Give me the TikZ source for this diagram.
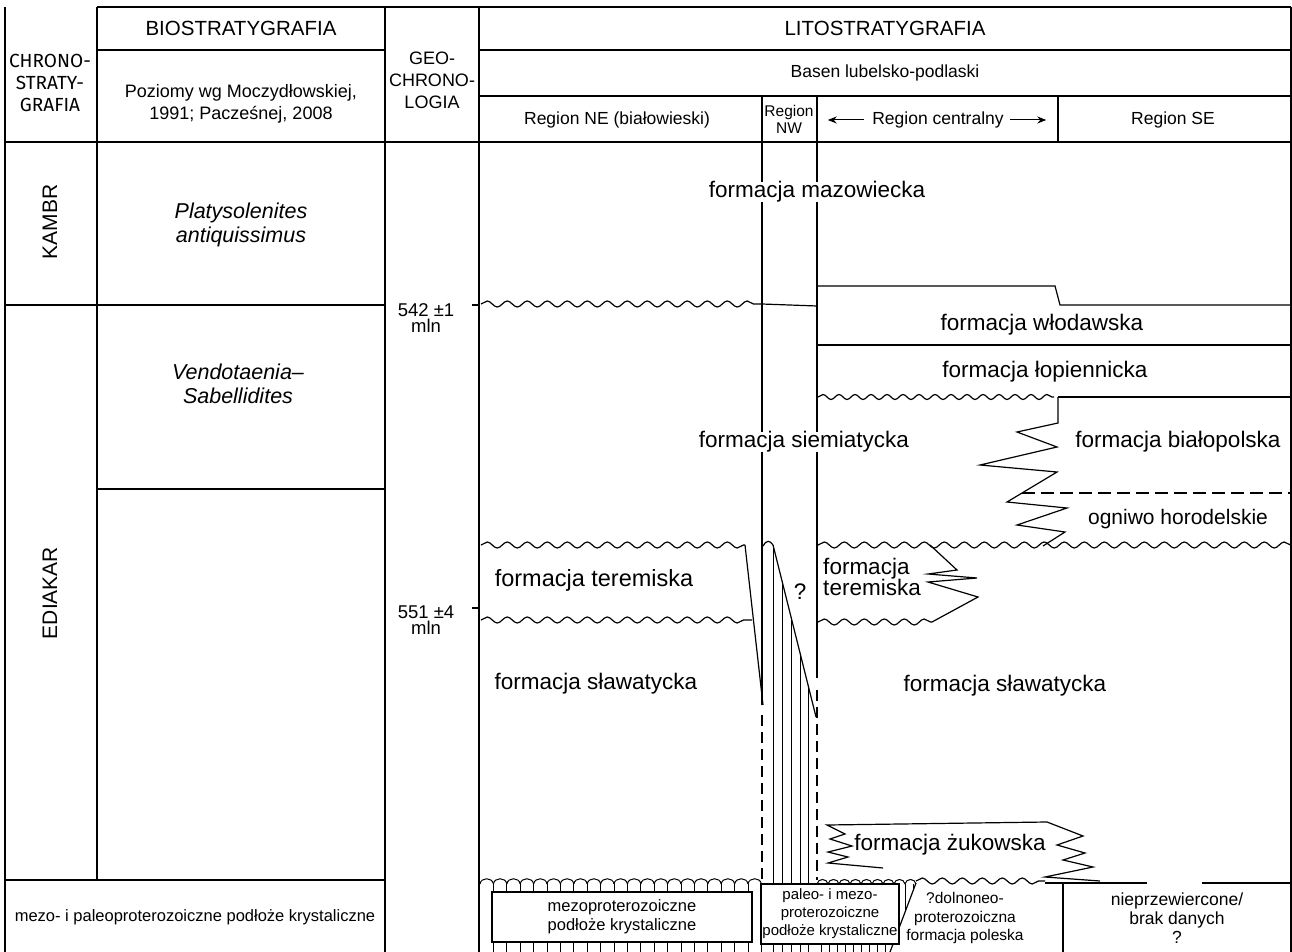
\documentclass[tikz,border=0pt]{standalone}
\usepackage{fontspec}
\setmainfont{Liberation Sans}
\newfontfamily\chronofont{Fira Sans}
\usetikzlibrary{decorations.pathmorphing,arrows.meta}
\begin{document}
\begin{tikzpicture}[x=1pt,y=-1pt,line width=1.2pt,draw=black,
  wave/.style={decorate,decoration={snake,segment length=20pt,amplitude=3pt}},
  swave/.style={decorate,decoration={snake,segment length=16pt,amplitude=2.5pt}},
  dsh/.style={dash pattern=on 11pt off 6pt},
  big/.style={inner sep=0pt,font=\fontsize{22.5}{22}\selectfont,align=left},
  hdr/.style={inner sep=0pt,font=\fontsize{18}{22}\selectfont,align=center},
  sml/.style={inner sep=0pt,font=\fontsize{17.5}{20}\selectfont,align=center},
  chr/.style={inner sep=0pt,font=\chronofont\fontsize{19}{22}\selectfont,align=center},
  arr/.style={-{Stealth[length=9pt,width=7pt]},line width=1pt},
  boxn/.style={draw,fill=white,inner sep=0pt,align=center}]
\path[use as bounding box] (0,0) rectangle (1292,952);
\fill[white] (0,0) rectangle (1292,952);
% ---------- frame and header ----------
\draw (97,7) -- (1291,7);
\draw (5,7) -- (5,952);
\draw (97,7) -- (97,880);
\draw (385,7) -- (385,952);
\draw (479,7) -- (479,952);
\draw (1291,7) -- (1291,952);
\draw (97,50) -- (385,50);
\draw (479,50) -- (1291,50);
\draw (479,96) -- (1291,96);
\draw (5,142) -- (1291,142);
\draw (1058,96) -- (1058,142);
% chrono / bio cells
\draw (5,305) -- (385,305);
\draw (97,489) -- (385,489);
\draw (5,880) -- (385,880);
% geo ticks
\draw (472,305) -- (479,305);
\draw (472,608) -- (479,608);
% NW column lines
\draw (762,96) -- (762,705);
\draw[dsh] (762,715) -- (762,880);
\draw (817,96) -- (817,678);
\draw[dsh] (817,690) -- (817,880);
% ---------- header texts ----------
\node[chr] (c1) at (50,83) {CHRONO-\\STRATY-\\GRAFIA};
\node[hdr,font=\fontsize{20.5}{22}\selectfont] (b1) at (241,28) {BIOSTRATYGRAFIA};
\node[hdr] (b2) at (241,104) {Poziomy wg Moczydłowskiej,\\1991; Pacześnej, 2008};
\node[hdr] (g1) at (432,80) {GEO-\\CHRONO-\\LOGIA};
\node[hdr,font=\fontsize{20.5}{22}\selectfont] (l1) at (885,28) {LITOSTRATYGRAFIA};
\node[sml] (l2) at (885,73) {Basen lubelsko-podlaski};
\node[sml] (r1) at (617,120) {Region NE (białowieski)};
\node[inner sep=0pt,font=\fontsize{15.5}{17}\selectfont,align=center] (r2) at (789,119) {Region\\NW};
\node[sml] (r3) at (938,120) {Region centralny};
\node[sml] (r4) at (1173,120) {Region SE};
\draw[arr] ([xshift=-8pt]r3.west) -- ([xshift=-44pt]r3.west);
\draw[arr] ([xshift=6pt]r3.east) -- ([xshift=42pt]r3.east);
% ---------- chrono / bio / geo texts ----------
\node[hdr,font=\fontsize{21}{22}\selectfont,rotate=90] (k1) at (50,222) {KAMBR};
\node[hdr,font=\fontsize{21}{22}\selectfont,rotate=90] (k2) at (50,593) {EDIAKAR};
\node[inner sep=0pt,font=\itshape\fontsize{21.5}{24}\selectfont,align=center] (p1) at (241,225) {Platysolenites\\antiquissimus};
\node[inner sep=0pt,font=\itshape\fontsize{21.5}{24}\selectfont,align=center] (p2) at (238,384) {Vendotaenia–\\Sabellidites};
\node[hdr,font=\fontsize{18.5}{16}\selectfont] (t1) at (426,318) {542 ±1\\mln};
\node[hdr,font=\fontsize{18.5}{16}\selectfont] (t2) at (426,620) {551 ±4\\mln};
\node[sml,font=\fontsize{16.5}{20}\selectfont] (bt) at (195,917) {mezo- i paleoproterozoiczne podłoże krystaliczne};
% ---------- boundaries ----------
% Kambr / Ediakar
\draw[wave] (481,304) -- (761,304);
\draw (762,304) -- (817,306);
\draw (817,286) -- (1055,286) -- (1060,305) -- (1291,305);
\draw (817,345) -- (1291,345);
\draw[swave] (818,397) -- (1054,397);
\draw (1058,397) -- (1291,397);
% bialopolska interfingering
\draw (1058,397) -- (1058,423) -- (1017,432) -- (1057,447) -- (980,465) -- (1057,472)
      -- (1007,502) -- (1067,508) -- (1017,525) -- (1065,532) -- (1043,546);
\draw[dash pattern=on 13pt off 6pt] (1022,493) -- (1291,493);
% base of siemiatycka
\draw[wave] (481,545) -- (745,545);
\draw (763,546) .. controls (766,540) and (770,540) .. (773,545);
\draw[wave] (818,545) -- (1291,545);
% teremiska NE
\draw[wave] (481,620) -- (752,620);
\draw (745,545) -- (763,705);
% teremiska central
\draw (930,545) -- (957,570) -- (928,574) -- (977,578) -- (928,582) -- (978,597) -- (932,622);
\draw[wave] (818,622) -- (932,622);
% NW hatch and slope
\draw (773,545) -- (816,717);
\foreach \x in {773,782,791,800,808} {
  \pgfmathsetmacro\yy{545+4*(\x-773)}
  \draw[line width=1pt] (\x,\yy) -- (\x,952);
}
% zukowska
\draw (883,868) -- (828,863) -- (848,857) -- (828,852) -- (852,846) -- (830,839) -- (845,834)
      -- (827,825) -- (1047,822) -- (1083,836) -- (1057,845) -- (1085,853) -- (1063,860)
      -- (1093,867) -- (1045,877) -- (1100,881);
% ---------- bottom ----------
\foreach \i in {0,...,20} {
  \pgfmathsetmacro\xa{480+13.4*\i}
  \pgfmathsetmacro\xb{\xa+13.4}
  \draw[line width=1pt] (\xa,884) .. controls (\xa+1,877) and (\xb-1,877) .. (\xb,884);
  \draw[line width=1pt] (\xb,884) -- (\xb,952);
}
\foreach \i in {0,...,8} {
  \pgfmathsetmacro\xa{817+11*\i}
  \pgfmathsetmacro\xb{\xa+11}
  \draw[line width=1pt] (\xa,884) .. controls (\xa+1,878) and (\xb-1,878) .. (\xb,884);
}
\foreach \x in {821,829,...,889} {
  \draw[line width=0.9pt] (\x,884) -- (\x,952);
}
\foreach \x in {897,905,913} {
  \pgfmathsetmacro\yy{883+(916-\x)*69/26}
  \draw[line width=0.9pt] (\x,884) -- (\x,\yy);
}
\draw (916,883) -- (890,952);
\draw[wave] (916,881) -- (1045,881);
\draw (1045,883) -- (1147,883);
\draw (1202,883) -- (1291,883);
\draw (1063,883) -- (1063,952);
\node[boxn,minimum width=260pt,minimum height=50pt,font=\fontsize{16.5}{19}\selectfont] (nebox) at (622,917) {mezoproterozoiczne\\podłoże krystaliczne};
\node[boxn,minimum width=138pt,minimum height=60pt,font=\fontsize{15}{18}\selectfont] (nwbox) at (830,914) {paleo- i mezo-\\proterozoiczne\\podłoże krystaliczne};
\node[sml,font=\fontsize{15.5}{18.5}\selectfont] (pol) at (965,918) {?dolnoneo-\\proterozoiczna\\formacja poleska};
\node[sml,font=\fontsize{17.5}{19}\selectfont] (nie) at (1177,918) {nieprzewiercone/\\brak danych\\?};
% ---------- formation labels ----------
\node[big,fill=white,inner xsep=4pt] (f1) at (817,192) {formacja mazowiecka};
\node[big] (f2) at (1042,325) {formacja włodawska};
\node[big] (f3) at (1045,372) {formacja łopiennicka};
\node[big,fill=white,inner xsep=4pt] (f4) at (804,442) {formacja siemiatycka};
\node[big] (f5) at (1178,442) {formacja białopolska};
\node[big,font=\fontsize{21}{22}\selectfont] (f6) at (1178,519) {ogniwo horodelskie};
\node[big,font=\fontsize{23.5}{22}\selectfont] (f7) at (594,580) {formacja teremiska};
\node[big,font=\fontsize{22.5}{21}\selectfont] (f8) at (872,577) {formacja\\teremiska};
\node[big] (q1) at (800,592) {?};
\node[big] (f9) at (596,684) {formacja sławatycka};
\node[big] (f10) at (1005,686) {formacja sławatycka};
\node[big] (f11) at (950,845) {formacja żukowska};
\end{tikzpicture}
\end{document}
